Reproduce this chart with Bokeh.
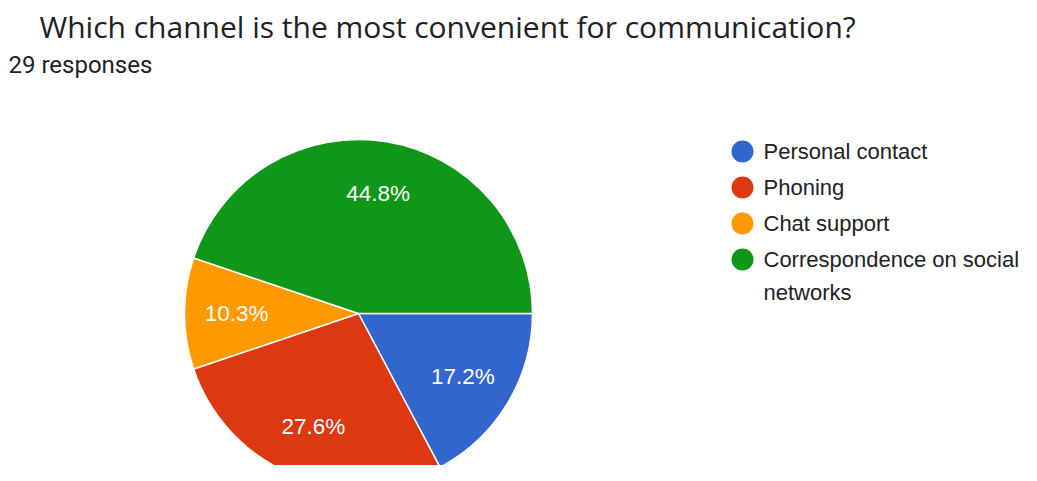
import math
from bokeh.plotting import figure
from bokeh.models import Range1d, Label
from bokeh.core.properties import value
from bokeh.embed import file_html
from bokeh.resources import INLINE

# ---- data ----
title = "Which channel is the most convenient for communication?"
subtitle = "29 responses"
categories = ["Personal contact", "Phoning", "Chat support", "Correspondence on social networks"]
legend_lines = ["Personal contact", "Phoning", "Chat support", "Correspondence on social\nnetworks"]
counts = [5, 8, 3, 13]
colors = ["#3366cc", "#dc3912", "#ff9900", "#109618"]

W, H = 1021, 465
p = figure(width=W, height=H, output_backend="svg", toolbar_location=None,
           x_range=Range1d(0, W), y_range=Range1d(0, H), min_border=0)
p.axis.visible = False
p.grid.visible = False
p.outline_line_color = None
p.background_fill_color = "white"

total = sum(counts)
cx, cy, R = 358, 152, 174
starts, ends, lx, ly, labels = [], [], [], [], []
cum = 0.0
for c in counts:
    f0 = cum / total
    cum += c
    f1 = cum / total
    # clockwise from 3 o'clock
    starts.append(-f1 * 2 * math.pi)
    ends.append(-f0 * 2 * math.pi)
    mid = -(f0 + f1) / 2 * 2 * math.pi
    lr = 0.70 * R
    lx.append(cx + lr * math.cos(mid))
    ly.append(cy + lr * math.sin(mid))
    labels.append(f"{100 * c / total:.1f}%")

p.wedge(x=cx, y=cy, radius=R, start_angle=starts, end_angle=ends,
        fill_color=colors, line_color="white", line_width=1.5)
p.text(x=lx, y=ly, text=labels, text_color="white", text_font=value("Liberation Sans"),
       text_font_size="22.5px", text_align="center", text_baseline="middle")

# legend
lgx, lgy0, step = 742, 465 - 151, 36
ys = [lgy0 - i * step for i in range(len(categories))]
p.scatter(x=[lgx] * len(categories), y=ys, size=22, marker="circle",
          fill_color=colors, line_color=None)
p.text(x=[lgx + 21] * len(categories), y=[y + 12.5 for y in ys], text=legend_lines,
       text_color="#222222", text_font=value("Liberation Sans"), text_font_size="22px",
       text_align="left", text_baseline="top", text_line_height=1.32)

p.add_layout(Label(x=39, y=439, text=title, text_font="Open Sans", text_font_size="30px",
                   text_color="#202124", text_baseline="alphabetic"))
p.add_layout(Label(x=8, y=401, text=subtitle, text_font="Roboto", text_font_size="24px",
                   text_color="#202124", text_baseline="alphabetic"))

open("out.html", "w").write(file_html(p, INLINE))
